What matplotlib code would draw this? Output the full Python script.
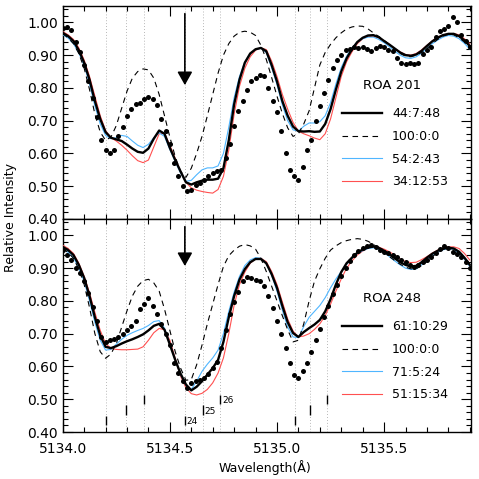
import numpy as np
import matplotlib.pyplot as plt
from matplotlib.lines import Line2D
from matplotlib.ticker import MultipleLocator, FormatStrFormatter

###########################################################
# data

# model grid (Angstrom)
wave = [5134.000, 5134.025, 5134.050, 5134.075, 5134.100, 5134.125, 5134.150,
        5134.175, 5134.200, 5134.225, 5134.250, 5134.275, 5134.300, 5134.325,
        5134.350, 5134.375, 5134.400, 5134.425, 5134.450, 5134.475, 5134.500,
        5134.525, 5134.550, 5134.575, 5134.600, 5134.625, 5134.650, 5134.675,
        5134.700, 5134.725, 5134.750, 5134.775, 5134.800, 5134.825, 5134.850,
        5134.875, 5134.900, 5134.925, 5134.950, 5134.975, 5135.000, 5135.025,
        5135.050, 5135.075, 5135.100, 5135.125, 5135.150, 5135.175, 5135.200,
        5135.225, 5135.250, 5135.275, 5135.300, 5135.325, 5135.350, 5135.375,
        5135.400, 5135.425, 5135.450, 5135.475, 5135.500, 5135.525, 5135.550,
        5135.575, 5135.600, 5135.625, 5135.650, 5135.675, 5135.700, 5135.725,
        5135.750, 5135.775, 5135.800, 5135.825, 5135.850, 5135.875, 5135.900]

# observed spectrum grid (Angstrom)
wave_obs = [5134.00, 5134.02, 5134.04, 5134.06, 5134.08, 5134.10, 5134.12, 5134.14,
            5134.16, 5134.18, 5134.20, 5134.22, 5134.24, 5134.26, 5134.28, 5134.30,
            5134.32, 5134.34, 5134.36, 5134.38, 5134.40, 5134.42, 5134.44, 5134.46,
            5134.48, 5134.50, 5134.52, 5134.54, 5134.56, 5134.58, 5134.60, 5134.62,
            5134.64, 5134.66, 5134.68, 5134.70, 5134.72, 5134.74, 5134.76, 5134.78,
            5134.80, 5134.82, 5134.84, 5134.86, 5134.88, 5134.90, 5134.92, 5134.94,
            5134.96, 5134.98, 5135.00, 5135.02, 5135.04, 5135.06, 5135.08, 5135.10,
            5135.12, 5135.14, 5135.16, 5135.18, 5135.20, 5135.22, 5135.24, 5135.26,
            5135.28, 5135.30, 5135.32, 5135.34, 5135.36, 5135.38, 5135.40, 5135.42,
            5135.44, 5135.46, 5135.48, 5135.50, 5135.52, 5135.54, 5135.56, 5135.58,
            5135.60, 5135.62, 5135.64, 5135.66, 5135.68, 5135.70, 5135.72, 5135.74,
            5135.76, 5135.78, 5135.80, 5135.82, 5135.84, 5135.86, 5135.88, 5135.90]

# ROA 201
obs_201 = [0.984, 0.985, 0.978, 0.940, 0.910, 0.870, 0.820, 0.770,
           0.710, 0.642, 0.612, 0.600, 0.612, 0.652, 0.680, 0.713,
           0.735, 0.750, 0.755, 0.766, 0.772, 0.765, 0.748, 0.705,
           0.670, 0.630, 0.570, 0.530, 0.500, 0.485, 0.490, 0.505,
           0.510, 0.520, 0.530, 0.540, 0.545, 0.550, 0.585, 0.630,
           0.685, 0.730, 0.760, 0.795, 0.820, 0.830, 0.838, 0.835,
           0.800, 0.760, 0.725, 0.670, 0.600, 0.550, 0.530, 0.520,
           0.560, 0.610, 0.640, 0.700, 0.745, 0.785, 0.825, 0.860,
           0.885, 0.900, 0.915, 0.920, 0.925, 0.922, 0.925, 0.918,
           0.912, 0.922, 0.928, 0.925, 0.915, 0.912, 0.890, 0.875,
           0.872, 0.875, 0.872, 0.875, 0.905, 0.915, 0.925, 0.955,
           0.975, 0.980, 0.990, 1.015, 1.000, 0.960, 0.943, 0.925]
fit_201 = [0.968, 0.958, 0.943, 0.915, 0.877, 0.825, 0.760, 0.705, 0.665, 0.648,
           0.643, 0.638, 0.627, 0.615, 0.605, 0.602, 0.615, 0.645, 0.670, 0.660,
           0.617, 0.580, 0.545, 0.512, 0.505, 0.512, 0.517, 0.520, 0.520, 0.523,
           0.555, 0.640, 0.750, 0.825, 0.877, 0.905, 0.918, 0.922, 0.912, 0.870,
           0.820, 0.760, 0.715, 0.682, 0.668, 0.667, 0.668, 0.666, 0.667, 0.690,
           0.735, 0.795, 0.850, 0.890, 0.918, 0.940, 0.953, 0.960, 0.961, 0.955,
           0.943, 0.932, 0.920, 0.908, 0.900, 0.898, 0.902, 0.913, 0.928, 0.942,
           0.953, 0.961, 0.965, 0.965, 0.958, 0.945, 0.928]
pure_201 = [0.965, 0.953, 0.935, 0.905, 0.860, 0.795, 0.720, 0.665, 0.640, 0.650,
            0.685, 0.738, 0.790, 0.830, 0.850, 0.858, 0.855, 0.830, 0.780, 0.715,
            0.650, 0.590, 0.545, 0.527, 0.555, 0.600, 0.652, 0.715, 0.780, 0.845,
            0.900, 0.935, 0.958, 0.970, 0.973, 0.970, 0.960, 0.930, 0.887, 0.832,
            0.775, 0.722, 0.678, 0.652, 0.660, 0.690, 0.730, 0.800, 0.870, 0.908,
            0.933, 0.953, 0.968, 0.980, 0.986, 0.989, 0.988, 0.980, 0.968, 0.957,
            0.945, 0.932, 0.918, 0.905, 0.897, 0.895, 0.900, 0.908, 0.920, 0.935,
            0.948, 0.958, 0.963, 0.962, 0.953, 0.940, 0.922]
blue_201 = [0.962, 0.952, 0.935, 0.907, 0.868, 0.812, 0.745, 0.690, 0.655, 0.645,
            0.648, 0.655, 0.652, 0.638, 0.625, 0.618, 0.628, 0.648, 0.663, 0.652,
            0.612, 0.575, 0.540, 0.515, 0.518, 0.535, 0.550, 0.556, 0.556, 0.562,
            0.600, 0.680, 0.770, 0.835, 0.880, 0.905, 0.917, 0.921, 0.908, 0.862,
            0.810, 0.748, 0.700, 0.672, 0.668, 0.683, 0.693, 0.693, 0.697, 0.715,
            0.755, 0.812, 0.862, 0.897, 0.922, 0.940, 0.950, 0.955, 0.955, 0.948,
            0.938, 0.925, 0.912, 0.900, 0.892, 0.890, 0.895, 0.906, 0.920, 0.935,
            0.946, 0.955, 0.960, 0.958, 0.950, 0.936, 0.918]
red_201 = [0.972, 0.962, 0.948, 0.922, 0.885, 0.835, 0.775, 0.715, 0.670, 0.648,
           0.638, 0.625, 0.610, 0.593, 0.578, 0.572, 0.580, 0.620, 0.660, 0.662,
           0.625, 0.585, 0.545, 0.512, 0.495, 0.488, 0.484, 0.481, 0.479, 0.490,
           0.530, 0.610, 0.720, 0.805, 0.860, 0.895, 0.915, 0.922, 0.917, 0.882,
           0.835, 0.780, 0.735, 0.695, 0.668, 0.660, 0.654, 0.647, 0.642, 0.660,
           0.705, 0.770, 0.835, 0.880, 0.910, 0.935, 0.950, 0.957, 0.958, 0.953,
           0.943, 0.932, 0.920, 0.910, 0.902, 0.900, 0.905, 0.916, 0.930, 0.944,
           0.955, 0.962, 0.965, 0.966, 0.962, 0.950, 0.935]
labels_201 = ['44:7:48', '100:0:0', '54:2:43', '34:12:53']

# ROA 248
obs_248 = [0.955, 0.940, 0.925, 0.900, 0.885, 0.860, 0.825, 0.780,
           0.740, 0.690, 0.675, 0.680, 0.685, 0.690, 0.700, 0.710,
           0.725, 0.740, 0.775, 0.790, 0.810, 0.785, 0.760, 0.730,
           0.700, 0.665, 0.610, 0.580, 0.555, 0.535, 0.550, 0.555,
           0.560, 0.565, 0.576, 0.596, 0.615, 0.655, 0.710, 0.760,
           0.797, 0.827, 0.860, 0.873, 0.870, 0.865, 0.862, 0.845,
           0.815, 0.777, 0.740, 0.700, 0.656, 0.610, 0.575, 0.565,
           0.585, 0.610, 0.645, 0.680, 0.715, 0.750, 0.785, 0.820,
           0.850, 0.877, 0.900, 0.922, 0.940, 0.952, 0.960, 0.968,
           0.972, 0.965, 0.955, 0.950, 0.945, 0.940, 0.935, 0.925,
           0.918, 0.910, 0.905, 0.910, 0.920, 0.925, 0.935, 0.945,
           0.958, 0.968, 0.962, 0.950, 0.942, 0.935, 0.918, 0.900]
fit_248 = [0.965, 0.955, 0.940, 0.910, 0.870, 0.815, 0.750, 0.695, 0.660, 0.656,
           0.662, 0.670, 0.677, 0.683, 0.690, 0.698, 0.710, 0.724, 0.730, 0.712,
           0.667, 0.620, 0.578, 0.545, 0.527, 0.538, 0.555, 0.575, 0.595, 0.620,
           0.675, 0.750, 0.815, 0.865, 0.897, 0.918, 0.928, 0.928, 0.915, 0.882,
           0.840, 0.785, 0.735, 0.702, 0.690, 0.705, 0.717, 0.728, 0.742, 0.768,
           0.805, 0.850, 0.888, 0.915, 0.932, 0.947, 0.957, 0.963, 0.966, 0.962,
           0.953, 0.942, 0.930, 0.918, 0.910, 0.905, 0.907, 0.918, 0.932, 0.944,
           0.953, 0.960, 0.962, 0.960, 0.950, 0.932, 0.910]
pure_248 = [0.960, 0.948, 0.930, 0.897, 0.850, 0.780, 0.700, 0.645, 0.625, 0.638,
            0.670, 0.720, 0.770, 0.815, 0.845, 0.862, 0.866, 0.855, 0.830, 0.775,
            0.710, 0.645, 0.595, 0.558, 0.560, 0.605, 0.665, 0.730, 0.790, 0.850,
            0.905, 0.938, 0.955, 0.967, 0.972, 0.968, 0.958, 0.930, 0.890, 0.845,
            0.800, 0.755, 0.712, 0.675, 0.680, 0.730, 0.800, 0.860, 0.898, 0.930,
            0.955, 0.968, 0.978, 0.984, 0.988, 0.990, 0.988, 0.982, 0.973, 0.960,
            0.948, 0.935, 0.923, 0.912, 0.903, 0.898, 0.898, 0.908, 0.920, 0.935,
            0.948, 0.957, 0.963, 0.960, 0.950, 0.932, 0.910]
blue_248 = [0.960, 0.948, 0.932, 0.900, 0.860, 0.800, 0.735, 0.680, 0.650, 0.652,
            0.668, 0.683, 0.695, 0.703, 0.710, 0.716, 0.725, 0.737, 0.740, 0.717,
            0.670, 0.620, 0.575, 0.542, 0.530, 0.555, 0.585, 0.607, 0.626, 0.650,
            0.700, 0.768, 0.827, 0.875, 0.908, 0.925, 0.932, 0.930, 0.915, 0.878,
            0.830, 0.772, 0.720, 0.690, 0.688, 0.722, 0.750, 0.768, 0.786, 0.810,
            0.840, 0.867, 0.890, 0.912, 0.930, 0.944, 0.953, 0.960, 0.962, 0.957,
            0.948, 0.935, 0.922, 0.910, 0.900, 0.896, 0.898, 0.910, 0.925, 0.938,
            0.948, 0.956, 0.960, 0.957, 0.945, 0.927, 0.905]
red_248 = [0.970, 0.960, 0.945, 0.915, 0.875, 0.825, 0.765, 0.710, 0.670, 0.655,
           0.652, 0.651, 0.651, 0.652, 0.653, 0.660, 0.680, 0.703, 0.716, 0.712,
           0.680, 0.625, 0.570, 0.535, 0.517, 0.513, 0.518, 0.530, 0.550, 0.580,
           0.626, 0.700, 0.787, 0.850, 0.888, 0.915, 0.928, 0.930, 0.920, 0.890,
           0.850, 0.797, 0.745, 0.708, 0.690, 0.693, 0.700, 0.713, 0.730, 0.755,
           0.790, 0.830, 0.867, 0.900, 0.922, 0.940, 0.952, 0.961, 0.966, 0.964,
           0.958, 0.950, 0.940, 0.928, 0.920, 0.917, 0.918, 0.926, 0.935, 0.946,
           0.955, 0.962, 0.965, 0.965, 0.960, 0.945, 0.925]
labels_248 = ['61:10:29', '100:0:0', '71:5:24', '51:15:34']

# line positions (dotted) and marker ticks
line_waves = [5134.202, 5134.293, 5134.377, 5134.570, 5134.654, 5134.735,
              5135.086, 5135.152, 5135.234]
mark_base = [0.420, 0.452, 0.484, 0.420, 0.452, 0.484, 0.420, 0.452, 0.484]
mark_text = {3: '24', 4: '25', 5: '26'}
arrow_wave = 5134.57

###########################################################
# styles

styles = [dict(color='k', lw=1.7),
          dict(color='k', lw=0.8, dashes=(5, 4)),
          dict(color='#4fb6ff', lw=0.8),
          dict(color='#ff5050', lw=0.8)]


def panel(ax, obs, curves, labels, title, arrow_tip):
    for w in line_waves:
        ax.axvline(w, color='#a0a0a0', lw=0.6, ls=(0, (1, 2.5)), zorder=1)
    # fits: red, blue, dashed, then thick black on top
    for i in [3, 2, 1, 0]:
        ax.plot(wave, curves[i], zorder=3, **styles[i])
    ax.plot(wave_obs, obs, 'o', color='k', ms=3.6, mew=0, zorder=4)
    ax.annotate('', xy=(arrow_wave, arrow_tip), xytext=(arrow_wave, 1.035),
                arrowprops=dict(arrowstyle='-|>,head_length=0.8,head_width=0.45',
                                color='k', lw=1.2, mutation_scale=10))
    handles = [Line2D([], [], **s) for s in styles]
    ax.legend(handles, labels, loc='upper left',
              bbox_to_anchor=(0.684, 0.525), frameon=False, fontsize=9,
              handlelength=3.2, handletextpad=0.8, labelspacing=0.78,
              borderpad=0, borderaxespad=0)
    ax.text(0.807, 0.629, title, transform=ax.transAxes, fontsize=9.5,
            ha='center', va='center')
    ax.set_xlim(5134.0, 5135.905)
    ax.set_ylim(0.40, 1.05)
    ax.xaxis.set_major_locator(MultipleLocator(0.5))
    ax.xaxis.set_minor_locator(MultipleLocator(0.1))
    ax.yaxis.set_major_locator(MultipleLocator(0.1))
    ax.yaxis.set_minor_locator(MultipleLocator(0.02))
    ax.yaxis.set_major_formatter(FormatStrFormatter('%.2f'))
    ax.xaxis.set_major_formatter(FormatStrFormatter('%.1f'))
    ax.tick_params(which='both', direction='in', top=True, right=True,
                   labelsize=10, width=0.8)
    ax.tick_params(axis='x', pad=7)
    ax.tick_params(which='major', length=7)
    ax.tick_params(which='minor', length=3.5)
    for sp in ax.spines.values():
        sp.set_linewidth(1.0)


###########################################################
# main program

fig = plt.figure(figsize=(4.79, 4.79), dpi=100)
ax_top = fig.add_axes([0.131, 0.5428, 0.852, 0.4447])
ax_bot = fig.add_axes([0.131, 0.0981, 0.852, 0.4447])

panel(ax_top, obs_201, [fit_201, pure_201, blue_201, red_201], labels_201,
      'ROA 201', 0.80)
panel(ax_bot, obs_248, [fit_248, pure_248, blue_248, red_248], labels_248,
      'ROA 248', 0.898)
ax_top.tick_params(labelbottom=False)

# line markers in the lower panel
ax_bot.vlines(line_waves, mark_base, np.array(mark_base) + 0.03, color='k', lw=1.0)
for i, s in mark_text.items():
    ax_bot.text(line_waves[i] + 0.008, mark_base[i] + 0.004, s, fontsize=6.5,
                ha='left', va='baseline')

fig.text(0.021, 0.545, 'Relative Intensity', rotation=90, ha='center',
         va='center', fontsize=9)
fig.text(0.553, 0.025, 'Wavelength(Å)', ha='center', va='center', fontsize=9)

fig.savefig('out.png', dpi=100)
